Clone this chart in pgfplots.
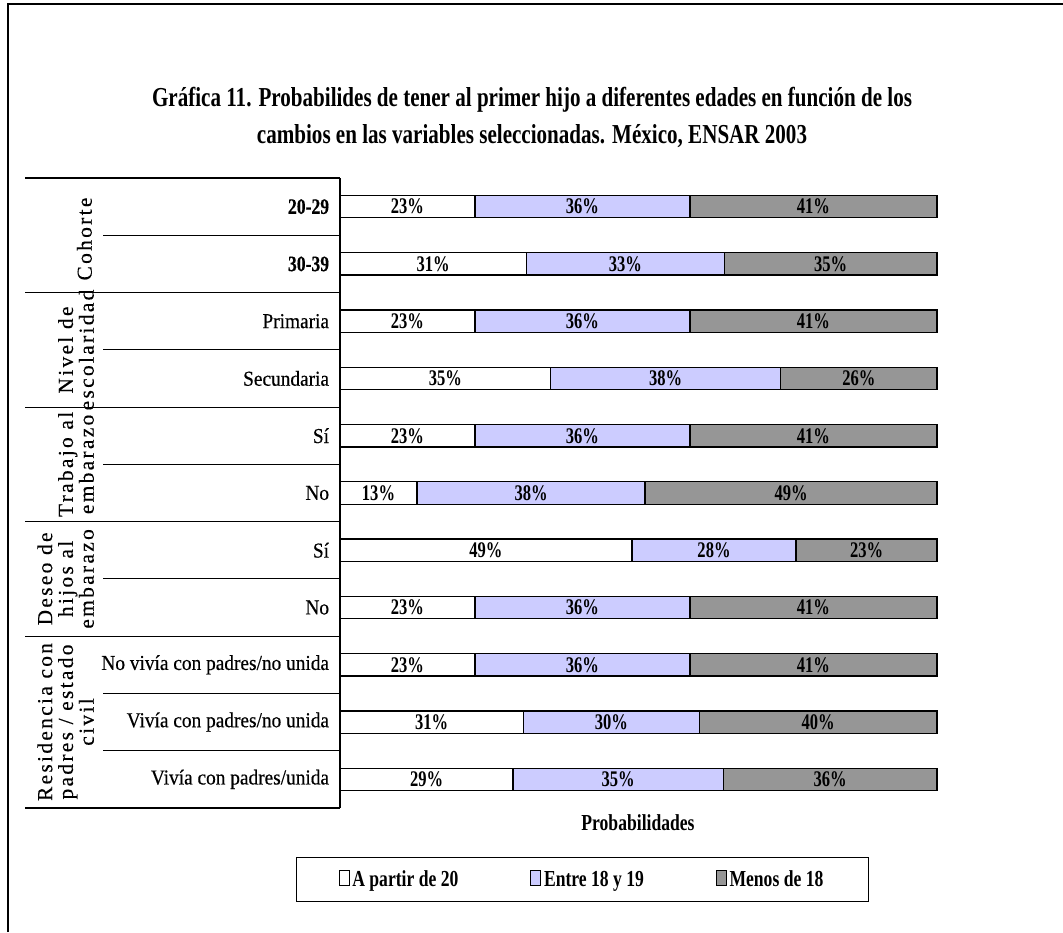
\documentclass[border=0pt]{standalone}
\usepackage{pgfplots}
\pgfplotsset{compat=1.18}
\usepackage{pgfplotstable}
\usepackage{graphicx}
\usepackage{fontspec}
\setmainfont{Liberation Serif}

\definecolor{lav}{HTML}{CCCCFF}
\definecolor{gr}{HTML}{969696}

\newcommand\vs[1]{\scalebox{1}[1.3]{#1}}
\newcommand\vc[1]{\scalebox{1}[1.1]{#1}}
\newcommand\vb[1]{\scalebox{1}[1.25]{\bfseries\fontsize{13.2}{14}\selectfont #1}}
\newcommand\grp[1]{{\fontsize{16}{15}\selectfont\addfontfeature{LetterSpace=11,FakeBold=0.3}\begin{tabular}{@{}c@{}}#1\end{tabular}}}

\pgfplotstableread{
y    a    b    c    la lb lc
10.5 22.6 36.0 41.4 23 36 41
9.5  31.2 33.2 35.6 31 33 35
8.5  22.6 36.0 41.4 23 36 41
7.5  35.3 38.5 26.2 35 38 26
6.5  22.6 36.0 41.4 23 36 41
5.5  12.9 38.2 48.9 13 38 49
4.5  48.9 27.5 23.6 49 28 23
3.5  22.6 36.0 41.4 23 36 41
2.5  22.6 36.0 41.4 23 36 41
1.5  30.7 29.5 39.8 31 30 40
0.5  29.0 35.2 35.8 29 35 36
}\datatable

\pgfplotsset{
  common/.style={
    at={(255pt,93pt)}, anchor=south west, scale only axis,
    width=447.75pt, height=472.5pt,
    xmin=0, xmax=100, ymin=0, ymax=11, clip=false,
    /pgf/number format/assume math mode=true,
  },
}

\begin{document}
\begin{tikzpicture}
\path[use as bounding box] (0,0) rectangle (797.25pt,699pt);

\begin{axis}[common,
  xbar stacked, bar width=0.39,
  axis x line=none, axis y line=left,
  axis line style={-, line width=0.8pt},
  ytick={0.5,1.5,2.5,3.5,4.5,5.5,6.5,7.5,8.5,9.5,10.5},
  yticklabels={\vc{Vivía con padres/unida}, \vc{Vivía con padres/no unida}, \vc{No vivía con padres/no unida}, \vc{No}, \vc{Sí}, \vc{No}, \vc{Sí}, \vc{Secundaria}, \vc{Primaria}, \vb{30-39}, \vb{20-29}},
  ytick style={draw=none}, major tick length=0pt,
  yticklabel style={anchor=east, inner sep=0pt, xshift=-8pt, font=\fontsize{14.5}{15}\selectfont\addfontfeature{FakeBold=0.4}},
  legend columns=3,
  legend style={at={(0.406,-0.1135)}, anchor=center, draw=black, line width=0.8pt,
    inner xsep=32pt, inner ysep=7.5pt,
    font=\bfseries\fontsize{13.2}{14}\selectfont,
    /tikz/every even column/.append style={column sep=52pt},
    nodes={inner sep=2pt}},
  legend image code/.code={\draw[#1, line width=0.7pt] (0pt,-4.5pt) rectangle (7.5pt,6.5pt);},
]
\addplot[fill=white, draw=black, line width=1pt] table[x=a, y=y] {\datatable};
\addlegendentry{\vs{A partir de 20}}
\addplot[fill=lav, draw=black, line width=1pt] table[x=b, y=y] {\datatable};
\addlegendentry{\vs{Entre 18 y 19}}
\addplot[fill=gr, draw=black, line width=1pt] table[x=c, y=y] {\datatable};
\addlegendentry{\vs{Menos de 18}}
\end{axis}

\begin{axis}[common, hide axis,
  nodes near coords={\scalebox{1}[1.35]{\pgfmathprintnumber[fixed,precision=0]{\pgfplotspointmeta}\%}},
  every node near coord/.append style={anchor=center, inner sep=0pt, font=\bfseries\fontsize{12.4}{13}\selectfont},
]
\addplot[only marks, mark=none, point meta=explicit] table[x expr=\thisrow{a}/2, y=y, meta=la] {\datatable};
\addplot[only marks, mark=none, point meta=explicit] table[x expr=\thisrow{a}+\thisrow{b}/2, y=y, meta=lb] {\datatable};
\addplot[only marks, mark=none, point meta=explicit] table[x expr=\thisrow{a}+\thisrow{b}+\thisrow{c}/2, y=y, meta=lc] {\datatable};
\end{axis}

\begin{scope}[x=0.75pt, y=-0.75pt, shift={(0pt,699pt)}]
\draw[line width=2pt] (8,932) -- (8,4) -- (1063,4);
\foreach \yy in {178,292.5,407.1,521.6,636.2,808} \draw[line width=0.8pt] (25,\yy) -- (340,\yy);
\foreach \yy in {235.3,349.8,464.4,578.9,693.5,750.7} \draw[line width=0.8pt] (103,\yy) -- (340,\yy);

\node[rotate=90, anchor=south, inner sep=0pt] at (98,239) {\grp{Cohorte}};
\node[rotate=90, anchor=south, inner sep=0pt] at (100,350) {\grp{Nivel de\\escolaridad}};
\node[rotate=90, anchor=south, inner sep=0pt] at (100,464.4) {\grp{Trabajo al\\embarazo}};
\node[rotate=90, anchor=south, inner sep=0pt] at (100,578.9) {\grp{Deseo de\\hijos al\\embarazo}};
\node[rotate=90, anchor=south, inner sep=0pt] at (100,722) {\grp{Residencia con\\padres / estado\\civil}};

\node[font=\bfseries\fontsize{15.8}{16}\selectfont, inner sep=0pt] at (532,100) {\vs{Gráfica 11. Probabilides de tener al primer hijo a diferentes edades en función de los}};
\node[font=\bfseries\fontsize{15.8}{16}\selectfont, inner sep=0pt] at (532,136) {\vs{cambios en las variables seleccionadas. México, ENSAR 2003}};
\node[font=\bfseries\fontsize{13.2}{14}\selectfont, inner sep=0pt] at (638,823) {\vs{Probabilidades}};
\end{scope}
\end{tikzpicture}
\end{document}
